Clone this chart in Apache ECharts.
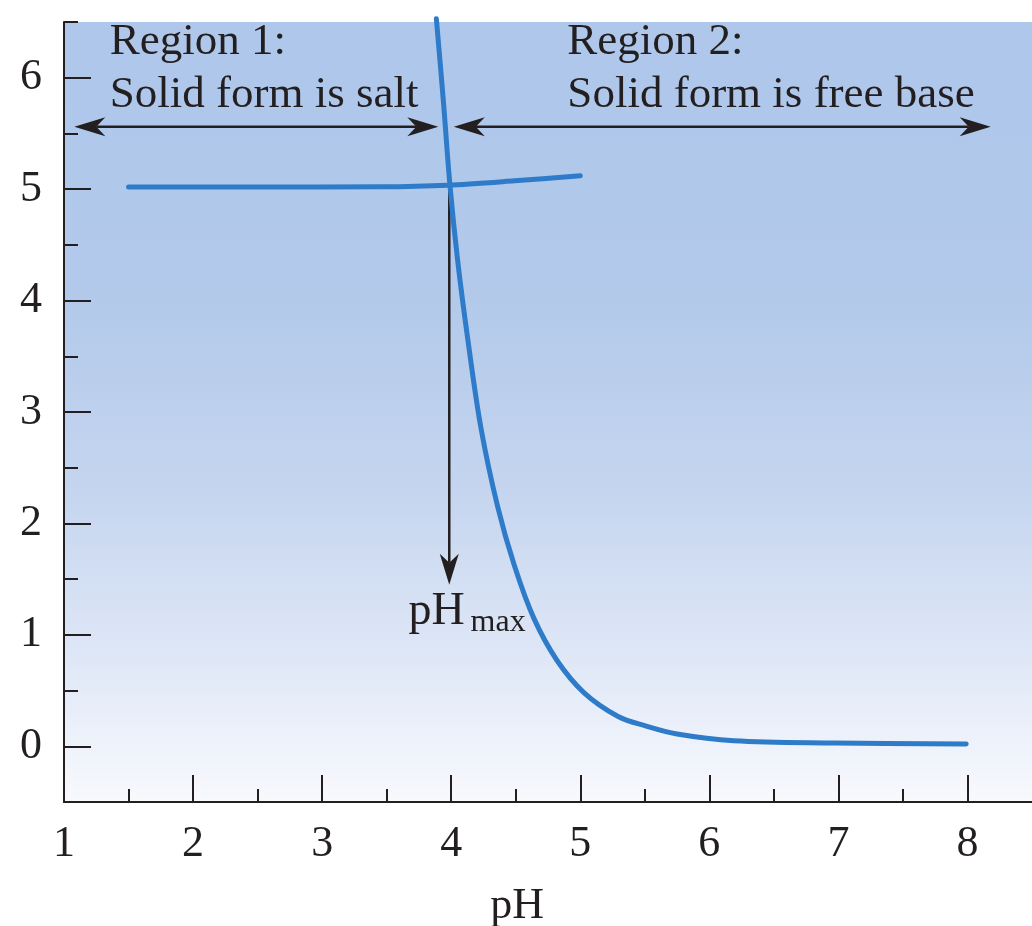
<!DOCTYPE html>
<html>
<head>
<meta charset="utf-8">
<script src="https://cdn.jsdelivr.net/npm/echarts@6/dist/echarts.min.js"></script>
<style>
html,body{margin:0;padding:0;background:#fff;}
#chart{width:1032px;height:926px;}
</style>
</head>
<body>
<div id="chart"></div>
<script>
// ---------- data ----------
const xMajorTicks = [1, 2, 3, 4, 5, 6, 7, 8];
const xMinorTicks = [1.5, 2.5, 3.5, 4.5, 5.5, 6.5, 7.5];
const yMajorTicks = [0, 1, 2, 3, 4, 5, 6];
const yMinorTicks = [0.5, 1.5, 2.5, 3.5, 4.5, 5.5, 6.5];

// free base solubility curve (pH, solubility)
const freeBaseCurve = [
  [3.885, 6.53], [3.94, 5.78], [3.99, 5.04], [4.05, 4.36], [4.13, 3.64],
  [4.23, 2.86], [4.36, 2.15], [4.49, 1.62], [4.64, 1.15], [4.82, 0.77],
  [5.03, 0.48], [5.29, 0.27], [5.50, 0.185], [5.75, 0.11], [6.19, 0.05],
  [6.97, 0.03], [7.99, 0.02]
];
// salt solubility curve
const saltCurve = [
  [1.50, 5.02], [2.50, 5.02], [3.46, 5.022], [3.975, 5.036], [4.49, 5.075], [5.00, 5.12]
];
// arrows: [x1, y1, x2, y2, headAtStart(1/0)]
const arrows = [
  [1.08, 5.56, 3.90, 5.56, 1],
  [4.02, 5.56, 8.18, 5.56, 1],
  [3.985, 5.04, 3.985, 1.45, 0]
];
const regionTexts = [
  { text: 'Region 1:', at: [1.355, 6.18] },
  { text: 'Solid form is salt', at: [1.355, 5.71] },
  { text: 'Region 2:', at: [4.90, 6.18] },
  { text: 'Solid form is free base', at: [4.90, 5.71] }
];
const pHmaxMain = { text: 'pH', at: [3.67, 1.07] };
const pHmaxSub = { text: 'max', at: [4.15, 1.015] };
const xAxisTitle = { text: 'pH', at: [4.51, -1.57] };

// ---------- style ----------
const INK = '#231f20';
const BLUE = '#2e7bc9';
const FONT = "'Liberation Serif', 'DejaVu Serif', serif";

const chart = echarts.init(document.getElementById('chart'), null, { renderer: 'canvas' });

function arrowRender(params, api) {
  const a = api.coord([api.value(0), api.value(1)]);
  const b = api.coord([api.value(2), api.value(3)]);
  const both = api.value(4);
  const dx = b[0] - a[0], dy = b[1] - a[1];
  const len = Math.hypot(dx, dy);
  const ux = dx / len, uy = dy / len;
  const L = 31, W = 9.5, N = 22;
  function head(tip, sx, sy) {
    return {
      type: 'polygon',
      shape: { points: [
        [tip[0], tip[1]],
        [tip[0] - sx * L - sy * W, tip[1] - sy * L + sx * W],
        [tip[0] - sx * N, tip[1] - sy * N],
        [tip[0] - sx * L + sy * W, tip[1] - sy * L - sx * W]
      ]},
      style: { fill: INK }
    };
  }
  const start = both ? [a[0] + ux * N, a[1] + uy * N] : a;
  const end = [b[0] - ux * N, b[1] - uy * N];
  const children = [{
    type: 'line',
    shape: { x1: start[0], y1: start[1], x2: end[0], y2: end[1] },
    style: { stroke: INK, lineWidth: 2.5 }
  }, head(b, ux, uy)];
  if (both) children.push(head(a, -ux, -uy));
  return { type: 'group', children: children };
}

const bg = new echarts.graphic.LinearGradient(0, 0, 0, 1, [
  { offset: 0, color: '#aec7ea' },
  { offset: 0.35, color: '#b2c9ea' },
  { offset: 0.6, color: '#c5d5ef' },
  { offset: 0.8, color: '#dde6f6' },
  { offset: 1, color: '#f8f9fd' }
]);

chart.setOption({
  animation: false,
  backgroundColor: '#ffffff',
  grid: {
    left: 64, top: 22, right: -5, bottom: 124,
    show: true, backgroundColor: bg, borderWidth: 0
  },
  xAxis: [{
    type: 'value', min: 1, max: 8.5, interval: 1,
    axisLine: { show: true, onZero: false, lineStyle: { color: INK, width: 2 } },
    axisTick: { show: true, inside: true, length: 27, customValues: xMajorTicks, lineStyle: { color: INK, width: 2 } },
    axisLabel: { show: true, customValues: xMajorTicks, margin: 20, color: INK, fontSize: 44, fontFamily: FONT },
    splitLine: { show: false }
  }, {
    type: 'value', min: 1, max: 8.5, interval: 0.5, position: 'bottom',
    axisLine: { show: false, onZero: false },
    axisTick: { show: true, inside: true, length: 13, customValues: xMinorTicks, lineStyle: { color: INK, width: 2 } },
    axisLabel: { show: false },
    splitLine: { show: false }
  }],
  yAxis: [{
    type: 'value', min: -0.5, max: 6.5,
    axisLine: { show: true, onZero: false, lineStyle: { color: INK, width: 2 } },
    axisTick: { show: true, inside: true, length: 27, customValues: yMajorTicks, lineStyle: { color: INK, width: 2 } },
    axisLabel: { show: true, customValues: yMajorTicks, margin: 22, color: INK, fontSize: 44, fontFamily: FONT },
    splitLine: { show: false }
  }, {
    type: 'value', min: -0.5, max: 6.5, position: 'left',
    axisLine: { show: false, onZero: false },
    axisTick: { show: true, inside: true, length: 14, customValues: yMinorTicks, lineStyle: { color: INK, width: 2 } },
    axisLabel: { show: false },
    splitLine: { show: false }
  }],
  series: [{
    type: 'custom',
    renderItem: arrowRender,
    data: arrows,
    clip: false,
    z: 3,
    silent: true
  }, {
    type: 'line',
    data: saltCurve,
    smooth: 0.3,
    showSymbol: false,
    clip: false,
    lineStyle: { color: BLUE, width: 5, cap: 'round', join: 'round' },
    z: 5,
    silent: true
  }, {
    type: 'line',
    data: freeBaseCurve,
    smooth: 0.35,
    showSymbol: false,
    clip: false,
    lineStyle: { color: BLUE, width: 5, cap: 'round', join: 'round' },
    z: 6,
    silent: true
  }]
});

function px(pt) { return chart.convertToPixel({ gridIndex: 0 }, pt); }
function textAt(item, size, align) {
  const p = px(item.at);
  return {
    type: 'text', x: p[0], y: p[1] - 0.3375 * size, silent: true,
    style: { text: item.text, fill: INK, font: size + 'px ' + FONT, align: align || 'left', verticalAlign: 'middle' }
  };
}
const graphics = regionTexts.map(t => textAt(t, 45));
graphics.push(textAt(pHmaxMain, 46));
graphics.push(textAt(pHmaxSub, 32));
graphics.push(textAt(xAxisTitle, 44, 'center'));
chart.setOption({ graphic: graphics });
</script>
</body>
</html>
